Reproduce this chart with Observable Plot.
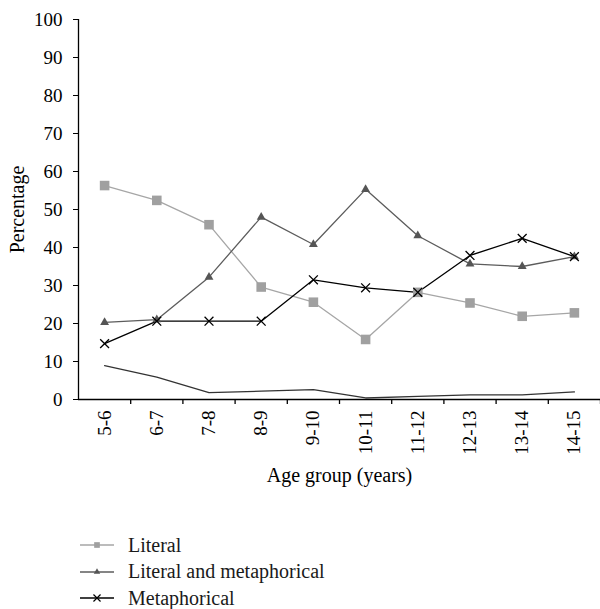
<!DOCTYPE html>
<html><head><meta charset="utf-8">
<script src="https://cdn.jsdelivr.net/npm/d3@7"></script>
<script src="https://cdn.jsdelivr.net/npm/@observablehq/plot@0.6"></script>
<style>
body{margin:0;background:#fff;font-family:"Liberation Serif",serif;}
#legend{margin-top:42px;padding-left:80px;font-size:20px;color:#1a1a1a}
.row{height:26.5px;display:flex;align-items:center}
.row svg{margin-right:14px;overflow:visible}
</style></head><body><div id="chart"></div><div id="legend"></div>
<script>
const ageGroups = ["5-6","6-7","7-8","8-9","9-10","10-11","11-12","12-13","13-14","14-15"];
const literal = [56.3,52.4,46.0,29.6,25.6,15.8,28.2,25.4,21.9,22.8];
const literalAndMetaphorical = [20.3,21.0,32.2,48.0,40.8,55.3,43.1,35.7,35.0,37.6];
const metaphorical = [14.7,20.6,20.6,20.6,31.5,29.4,28.2,37.9,42.4,37.6];
const other = [8.9,5.9,1.8,2.2,2.6,0.4,0.8,1.2,1.2,2.0];
const yTicks = [0,10,20,30,40,50,60,70,80,90,100];
const seriesNames = ["Literal","Literal and metaphorical","Metaphorical"];

const idx = ageGroups.map((_, i) => i);
const boundaries = ageGroups.map((_, i) => i + 0.5);
const rows = v => v.map((y, i) => ({i, y}));

const styles = [
  {line:"#a6a6a6", fill:"#a0a0a0", symbol:"square", r:5.4, legendR:3.2},
  {line:"#5c5c5c", fill:"#555555", symbol:"triangle", r:3.3, legendR:2.4},
  {line:"#000000", fill:"none", stroke:"#000", symbol:"times", r:4.1, legendR:3.3}
];
const seriesValues = [literal, literalAndMetaphorical, metaphorical];

const marks = [
  Plot.ruleY([0], {stroke:"#000", strokeWidth:1.3}),
  Plot.ruleX([-0.5], {stroke:"#000", strokeWidth:1.3}),
  Plot.ruleX(boundaries, {y1:0, y2:0, insetBottom:-5, stroke:"#000", strokeWidth:1.3}),
  Plot.line(rows(other), {x:"i", y:"y", stroke:"#333", strokeWidth:1.3})
];
seriesValues.forEach((vals, k) => {
  const s = styles[k];
  marks.push(Plot.line(rows(vals), {x:"i", y:"y", stroke:s.line, strokeWidth:1.3}));
});
seriesValues.forEach((vals, k) => {
  const s = styles[k];
  if (s.symbol === "times") {
    marks.push(Plot.dot(rows(vals), {x:"i", y:"y", symbol:"times", r:s.r, stroke:"#000", strokeWidth:1.3, fill:"none"}));
  } else {
    marks.push(Plot.dot(rows(vals), {x:"i", y:"y", symbol:s.symbol, r:s.r, fill:s.fill, stroke:"none"}));
  }
});
marks.push(Plot.text(["Age group (years)"], {frameAnchor:"bottom", dy:76, textAnchor:"middle", lineAnchor:"middle", fontSize:20, fill:"#000"}));
marks.push(Plot.text(["Percentage"], {frameAnchor:"left", dx:-61, rotate:-90, textAnchor:"middle", lineAnchor:"middle", fontSize:20, fill:"#000"}));

const chart = Plot.plot({
  width: 600,
  height: 490,
  marginTop: 19,
  marginBottom: 91,
  marginLeft: 78,
  marginRight: 0,
  style: {fontFamily:"Liberation Serif", fontSize:"19px", color:"#000", background:"#fff"},
  x: {type:"linear", domain:[-0.5, 9.5], ticks: idx, tickFormat: i => ageGroups[i], tickRotate:-90, tickSize:0, tickPadding:11, label:null},
  y: {domain:[0,100], ticks: yTicks, tickSize:5, tickPadding:11, label:null},
  marks
});
document.getElementById("chart").appendChild(chart);

const legend = d3.select("#legend");
seriesNames.forEach((name, k) => {
  const s = styles[k];
  const row = legend.append("div").attr("class","row");
  const svg = row.append("svg").attr("width",34).attr("height",14);
  svg.append("line").attr("x1",0).attr("x2",34).attr("y1",7).attr("y2",7).attr("stroke",s.line).attr("stroke-width",1.3);
  const sym = {square:d3.symbolSquare, triangle:d3.symbolTriangle, times:d3.symbolTimes}[s.symbol];
  const p = d3.symbol(sym, Math.PI * s.legendR * s.legendR)();
  const path = svg.append("path").attr("d", p).attr("transform","translate(17,7)");
  if (s.symbol === "times") path.attr("fill","none").attr("stroke","#000").attr("stroke-width",1.2);
  else path.attr("fill", s.fill);
  row.append("span").text(name);
});
</script>
</body></html>
